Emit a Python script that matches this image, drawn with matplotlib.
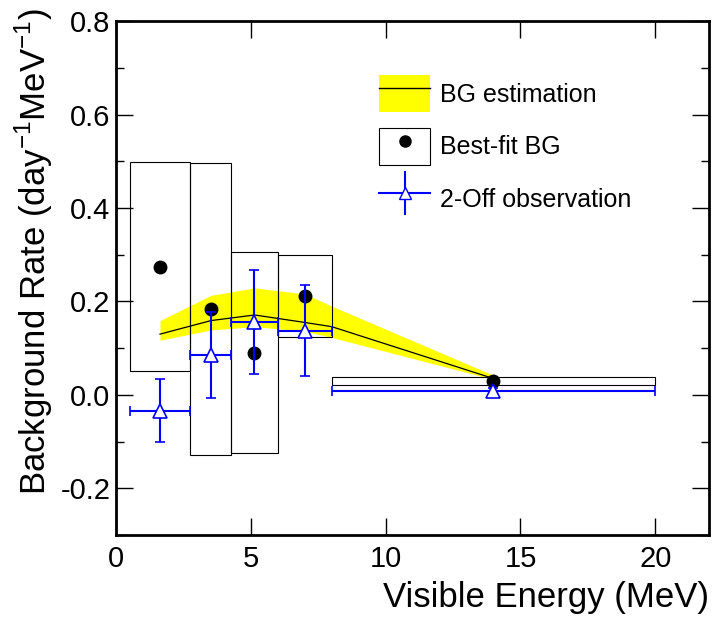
import numpy as np
import matplotlib
matplotlib.use('Agg')
import matplotlib.pyplot as plt
from matplotlib.ticker import MultipleLocator, FormatStrFormatter
from matplotlib.patches import Patch
from matplotlib.lines import Line2D
from matplotlib.legend_handler import HandlerTuple

plt.rcParams['font.family'] = ['Liberation Sans', 'DejaVu Sans']
plt.rcParams['axes.unicode_minus'] = False

# bins (MeV)
bin_edges = np.array([0.5, 2.76, 4.27, 6.0, 8.0, 20.0])
bin_centers = (bin_edges[:-1] + bin_edges[1:]) / 2

# best-fit BG boxes and points
box_low = np.array([0.051, -0.129, -0.125, 0.123, 0.022])
box_high = np.array([0.499, 0.497, 0.305, 0.299, 0.0375])
bestfit = np.array([0.274, 0.183, 0.090, 0.212, 0.030])

# 2-Off observation
obs = np.array([-0.035, 0.085, 0.156, 0.137, 0.009])
obs_lo = np.array([-0.100, -0.006, 0.045, 0.040, 0.004])
obs_hi = np.array([0.035, 0.178, 0.268, 0.235, 0.014])

# BG estimation band
est_x = np.array([1.63, 3.52, 5.14, 7.0, 8.0, 14.0])
est_mid = np.array([0.130, 0.159, 0.171, 0.155, 0.146, 0.035])
est_up = np.array([0.159, 0.213, 0.229, 0.216, 0.190, 0.042])
est_dn = np.array([0.117, 0.139, 0.146, 0.136, 0.123, 0.033])

blue = '#0000ff'

fig = plt.figure(figsize=(7.12, 6.2), dpi=100)
ax = fig.add_axes([0.163, 0.137, 0.833, 0.829])

# band + central line
ax.fill_between(est_x, est_dn, est_up, color='#ffff00', lw=0, zorder=1)
ax.plot(est_x, est_mid, color='k', lw=0.9, zorder=2)

# boxes
ax.bar(bin_centers, box_high - box_low, width=np.diff(bin_edges), bottom=box_low,
       fill=False, edgecolor='k', lw=0.8, zorder=3)

# best-fit points
ax.plot(bin_centers, bestfit, 'o', color='k', ms=9, zorder=4)

# observation
ax.errorbar(bin_centers, obs,
            xerr=[bin_centers - bin_edges[:-1], bin_edges[1:] - bin_centers],
            yerr=[obs - obs_lo, obs_hi - obs],
            fmt='^', color=blue, mfc='white', mec=blue, ms=10, mew=1.2,
            elinewidth=1.5, capsize=3.5, capthick=1.5, zorder=5)

ax.set_xlim(0, 22)
ax.set_ylim(-0.3, 0.8)
ax.xaxis.set_major_locator(MultipleLocator(5))
ax.yaxis.set_major_locator(MultipleLocator(0.2))
ax.yaxis.set_minor_locator(MultipleLocator(0.1))
ax.yaxis.set_major_formatter(FormatStrFormatter('%.1f'))
ax.tick_params(which='both', direction='in', top=True, right=True, width=1, labelsize=21)
ax.tick_params(which='major', length=12)
ax.tick_params(which='minor', length=6)
ax.tick_params(axis='x', pad=7)
ax.tick_params(axis='y', pad=4)
for s in ax.spines.values():
    s.set_linewidth(2)

ax.set_xlabel('Visible Energy (MeV)', fontsize=25, loc='right', labelpad=6)
ax.set_ylabel(r'Background Rate (day$^{\mathregular{-1}}$MeV$^{\mathregular{-1}}$)', fontsize=25, loc='top')
ax.yaxis.set_label_coords(-0.103, 1.025)

# legend
h1 = (Patch(facecolor='#ffff00', edgecolor='none'), Line2D([], [], color='k', lw=1))
h2 = (Patch(facecolor='white', edgecolor='k', lw=0.8),
      Line2D([], [], marker='o', color='k', ls='none', ms=8))
h3 = (Line2D([], [], color=blue, lw=1.5),
      Line2D([], [], marker='|', color=blue, ls='none', ms=32, mew=1.5),
      Line2D([], [], marker='^', mfc='white', mec=blue, ls='none', ms=9, mew=1))
ax.legend([h1, h2, h3], ['BG estimation', 'Best-fit BG', '2-Off observation'],
          handler_map={tuple: HandlerTuple(ndivide=1)},
          loc='upper left', bbox_to_anchor=(0.4435, 0.895), frameon=False,
          fontsize=18, handlelength=2.04, handleheight=1.9, labelspacing=0.62,
          handletextpad=0.4, borderpad=0, borderaxespad=0)

fig.savefig('out.png', dpi=100)
